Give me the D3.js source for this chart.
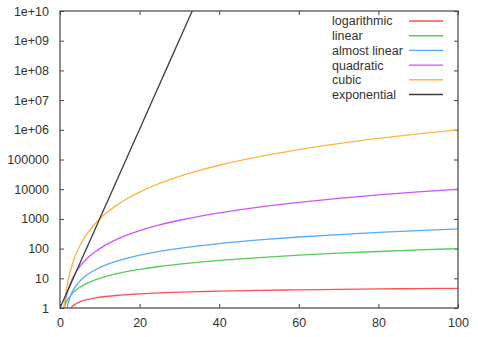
<!DOCTYPE html>
<html>
<head>
<meta charset="utf-8">
<script src="https://cdn.jsdelivr.net/npm/d3@7"></script>
<style>
  html, body { margin: 0; padding: 0; background: #fff; }
  text { font-family: "Liberation Sans", Arial, sans-serif; font-size: 12.5px; fill: #333; }
</style>
</head>
<body>
<svg id="chart" width="478" height="337"></svg>
<script>
// Sample points along n
const xs = [0, 1, 1.5, 2, 3, 4, 5, 6, 7, 8, 9, 10, 12, 14, 16, 18, 20, 25, 30, 35, 40, 50, 60, 70, 80, 90, 100];

// Growth of each complexity class at those n
const logarithmic = [null, 0, 0.405, 0.693, 1.099, 1.386, 1.609, 1.792, 1.946, 2.079, 2.197, 2.303, 2.485, 2.639, 2.773, 2.890, 2.996, 3.219, 3.401, 3.555, 3.689, 3.912, 4.094, 4.248, 4.382, 4.500, 4.605];
const linear = [0, 1, 1.5, 2, 3, 4, 5, 6, 7, 8, 9, 10, 12, 14, 16, 18, 20, 25, 30, 35, 40, 50, 60, 70, 80, 90, 100];
const almostLinear = [null, 0, 0.608, 1.386, 3.296, 5.545, 8.047, 10.75, 13.62, 16.64, 19.78, 23.03, 29.82, 36.95, 44.36, 52.03, 59.91, 80.47, 102.0, 124.4, 147.6, 195.6, 245.7, 297.4, 350.6, 405.0, 460.5];
const quadratic = [0, 1, 2.25, 4, 9, 16, 25, 36, 49, 64, 81, 100, 144, 196, 256, 324, 400, 625, 900, 1225, 1600, 2500, 3600, 4900, 6400, 8100, 10000];
const cubic = [0, 1, 3.375, 8, 27, 64, 125, 216, 343, 512, 729, 1000, 1728, 2744, 4096, 5832, 8000, 15625, 27000, 42875, 64000, 125000, 216000, 343000, 512000, 729000, 1000000];
const exponential = [1, 2, 2.828, 4, 8, 16, 32, 64, 128, 256, 512, 1024, 4096, 16384, 65536, 262144, 1048576, 33554432, 1073741824, 34359738368, null, null, null, null, null, null, null];

const seriesNames = ["logarithmic", "linear", "almost linear", "quadratic", "cubic", "exponential"];
const seriesValues = [logarithmic, linear, almostLinear, quadratic, cubic, exponential];
const seriesColors = ["#ff5050", "#55cc55", "#55aaff", "#cc55ff", "#ffb440", "#3c3c3c"];

const xTicks = [0, 20, 40, 60, 80, 100];
const yTicks = [1, 10, 100, 1000, 10000, 100000, 1e6, 1e7, 1e8, 1e9, 1e10];
const yTickLabels = ["1", "10", "100", "1000", "10000", "100000", "1e+06", "1e+07", "1e+08", "1e+09", "1e+10"];

const svg = d3.select("#chart");
const L = 60, R = 458, T = 11, B = 308;

const x = d3.scaleLinear().domain([0, 100]).range([L, R]);
const y = d3.scaleLog().domain([1, 1e10]).range([B, T]);

svg.append("defs").append("clipPath").attr("id", "plot")
  .append("rect").attr("x", L).attr("y", T).attr("width", R - L).attr("height", B - T);

// Axes with inward ticks on all four sides
const tickLen = 4;
const axisColor = "#444";
const styleLabels = g => g.selectAll("text")
  .attr("font-size", 13).attr("fill", "#333")
  .attr("font-family", "Liberation Sans, Arial, sans-serif");

svg.append("g").attr("transform", `translate(0,${B})`)
  .call(d3.axisBottom(x).tickValues(xTicks).tickSize(-tickLen).tickPadding(10))
  .call(g => { g.select(".domain").remove(); g.selectAll("line").attr("stroke", axisColor); })
  .call(styleLabels);

svg.append("g").attr("transform", `translate(0,${T})`)
  .call(d3.axisTop(x).tickValues(xTicks).tickSize(-tickLen).tickFormat(""))
  .call(g => { g.select(".domain").remove(); g.selectAll("line").attr("stroke", axisColor); });

svg.append("g").attr("transform", `translate(${L},0)`)
  .call(d3.axisLeft(y).tickValues(yTicks).tickSize(-tickLen).tickPadding(11)
    .tickFormat((d, i) => yTickLabels[i]))
  .call(g => { g.select(".domain").remove(); g.selectAll("line").attr("stroke", axisColor); })
  .call(styleLabels);

svg.append("g").attr("transform", `translate(${R},0)`)
  .call(d3.axisRight(y).tickValues(yTicks).tickSize(-tickLen).tickFormat(""))
  .call(g => { g.select(".domain").remove(); g.selectAll("line").attr("stroke", axisColor); });

// Curves
const line = d3.line()
  .defined(d => d.v != null && d.v > 0)
  .x(d => x(d.x))
  .y(d => y(d.v))
  .curve(d3.curveMonotoneX);

const plot = svg.append("g").attr("clip-path", "url(#plot)");
seriesValues.forEach((vals, i) => {
  const pts = xs.map((xv, j) => ({ x: xv, v: vals[j] }));
  plot.append("path")
    .attr("d", line(pts))
    .attr("fill", "none")
    .attr("stroke", seriesColors[i])
    .attr("stroke-width", 1.3);
});

// Frame
svg.append("rect").attr("x", L).attr("y", T).attr("width", R - L).attr("height", B - T)
  .attr("fill", "none").attr("stroke", axisColor).attr("stroke-width", 1.2);

// Legend
const legend = svg.append("g");
seriesNames.forEach((name, i) => {
  const ly = 21 + i * 14.7;
  legend.append("text").attr("x", 332).attr("y", ly + 4.4).text(name);
  legend.append("line").attr("x1", 409).attr("x2", 443).attr("y1", ly).attr("y2", ly)
    .attr("stroke", seriesColors[i]).attr("stroke-width", 1.4);
});
</script>
</body>
</html>
